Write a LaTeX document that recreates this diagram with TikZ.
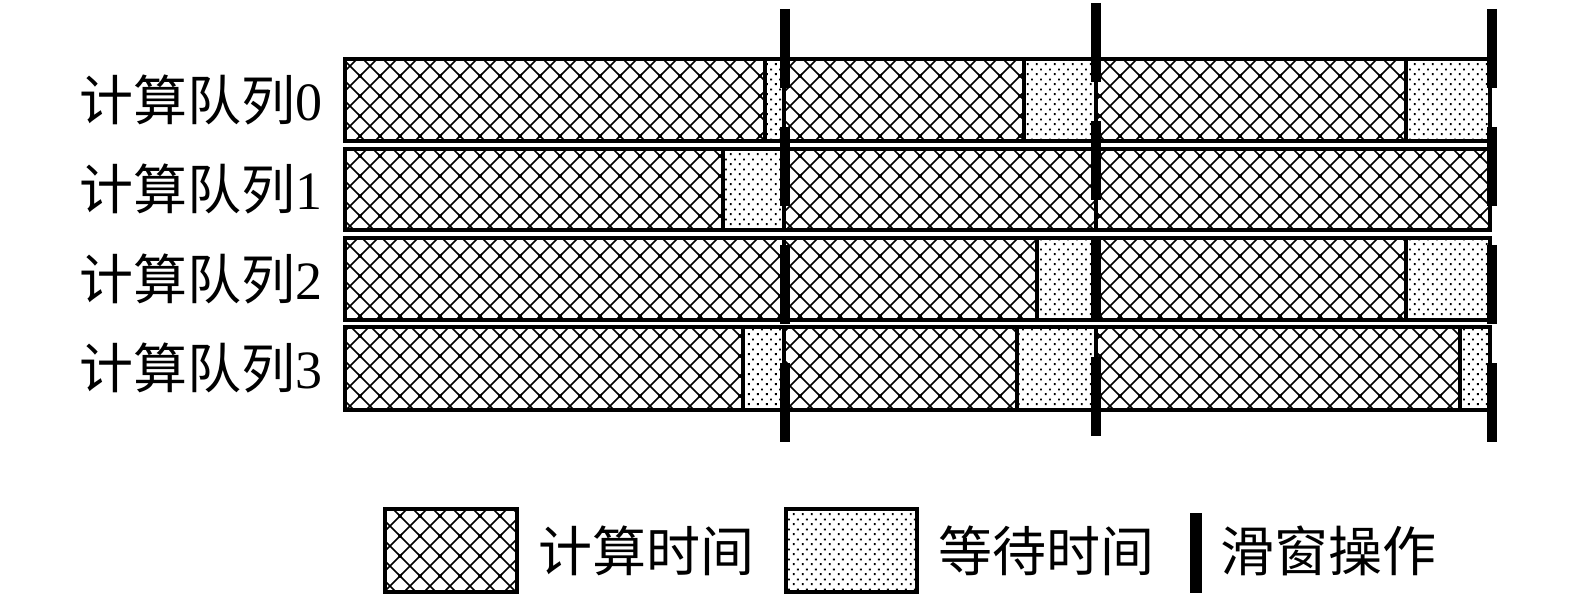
\documentclass[tikz,border=0pt]{standalone}
\usepackage{fontspec}
\setmainfont{Liberation Serif}
\newfontfamily\cjk{Noto Sans CJK SC}
\usetikzlibrary{patterns.meta}

\tikzdeclarepattern{
  name=meshpat,
  type=uncolored,
  bottom left={(-2pt,-2pt)},
  top right={(22pt,22pt)},
  tile size={(20pt,20pt)},
  code={
    \draw[line width=1.7pt] (-2pt,-2pt) -- (22pt,22pt) (-2pt,22pt) -- (22pt,-2pt);
  }
}
\tikzdeclarepattern{
  name=dotpat,
  type=uncolored,
  bottom left={(0pt,0pt)},
  top right={(9pt,10pt)},
  tile size={(9pt,10pt)},
  code={
    \fill (1pt,1pt) rectangle (3pt,3pt);
    \fill (5.5pt,6pt) rectangle (7.5pt,8pt);
  }
}

\tikzset{
  seg/.style={draw=black, line width=3.2pt},
  comp/.style={seg, pattern=meshpat, pattern color=black},
  wait/.style={seg, pattern=dotpat, pattern color=black},
  slide/.style={line width=10pt, dash pattern=on 79pt off 39pt},
  lab/.style={font=\fontsize{54}{54}\selectfont\cjk, inner sep=0pt},
}

\begin{document}
\begin{tikzpicture}[x=1pt,y=-1pt]
\fill[white] (0,0) rectangle (1575,596);
\useasboundingbox (0,0) rectangle (1575,596);

% row 0
\foreach \a/\b/\t in {345/765/comp,765/784/wait,784/1024/comp,1024/1096/wait,1096/1406/comp,1406/1490/wait}
  \draw[\t] (\a,59) rectangle (\b,141);
% row 1
\foreach \a/\b/\t in {345/723/comp,723/784/wait,784/1096/comp,1096/1490/comp}
  \draw[\t] (\a,149) rectangle (\b,230);
% row 2
\foreach \a/\b/\t in {345/784/comp,784/1037/comp,1037/1096/wait,1096/1406/comp,1406/1490/wait}
  \draw[\t] (\a,238) rectangle (\b,320);
% row 3
\foreach \a/\b/\t in {345/743/comp,743/784/wait,784/1017/comp,1017/1096/wait,1096/1460/comp,1460/1490/wait}
  \draw[\t] (\a,327) rectangle (\b,410);

% sliding-window markers
\coordinate (m1t) at (785,9);   \coordinate (m1b) at (785,442);
\coordinate (m2t) at (1096,3);  \coordinate (m2b) at (1096,436);
\coordinate (m3t) at (1492,9);  \coordinate (m3b) at (1492,442);
\draw[slide] (m1t) -- (m1b);
\draw[slide] (m2t) -- (m2b);
\draw[slide] (m3t) -- (m3b);

% row labels
\node[lab, anchor=east] (q0) at (323,100) {计算队列{\rmfamily 0}};
\node[lab, anchor=east] (q1) at (323,189) {计算队列{\rmfamily 1}};
\node[lab, anchor=east] (q2) at (323,279) {计算队列{\rmfamily 2}};
\node[lab, anchor=east] (q3) at (323,368) {计算队列{\rmfamily 3}};

% legend
\draw[comp, line width=4pt] (385,509) rectangle (517,592);
\node[lab, anchor=west] (l1) at (538,551) {计算时间};
\draw[wait, line width=4pt] (786,509) rectangle (917,592);
\node[lab, anchor=west] (l2) at (938,551) {等待时间};
\coordinate (lmt) at (1196,513); \coordinate (lmb) at (1196,593);
\draw[line width=12pt] (lmt) -- (lmb);
\node[lab, anchor=west] (l3) at (1220,551) {滑窗操作};
\end{tikzpicture}
\end{document}
